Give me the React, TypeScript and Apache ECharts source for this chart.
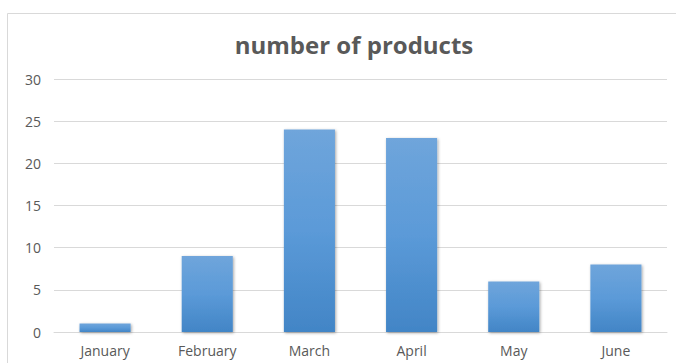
import React, { useEffect, useRef } from "react";
import * as echarts from "echarts";

const categories = ["January", "February", "March", "April", "May", "June"];
const values = [1, 9, 24, 23, 6, 8];
const title = "number of products";

export default function App() {
  const ref = useRef<HTMLDivElement>(null);
  useEffect(() => {
    if (!ref.current) return;
    const chart = echarts.init(ref.current, null, { renderer: "svg" });
    chart.setOption({
      animation: false,
      backgroundColor: "#ffffff",
      textStyle: { fontFamily: "Open Sans" },
      title: {
        text: title,
        left: 349,
        textAlign: "center",
        top: 27,
        textStyle: { fontSize: 24, fontWeight: "bold", color: "#595959", fontFamily: "Open Sans" },
      },
      graphic: [
        {
          type: "rect",
          shape: { x: 7.5, y: 13.5, width: 720, height: 420 },
          style: { fill: "none", stroke: "#d9d9d9", lineWidth: 1 },
          silent: true,
          z: -1,
        },
      ],
      grid: { left: 54, right: 9, top: 79, bottom: 31 },
      xAxis: {
        type: "category",
        data: categories,
        axisTick: { show: false },
        axisLine: { show: true, lineStyle: { color: "#d9d9d9", width: 1 } },
        axisLabel: { color: "#595959", fontSize: 14, margin: 11, fontFamily: "Open Sans" },
      },
      yAxis: {
        type: "value",
        min: 0,
        max: 30,
        interval: 5,
        axisLine: { show: false },
        axisTick: { show: false },
        splitLine: { lineStyle: { color: "#d9d9d9", width: 1 } },
        axisLabel: { color: "#595959", fontSize: 14, margin: 13, fontFamily: "Open Sans" },
      },
      series: [
        {
          type: "bar",
          data: values,
          barWidth: "50%",
          itemStyle: {
            color: new echarts.graphic.LinearGradient(0, 0, 0, 1, [
              { offset: 0, color: "#6fa5db" },
              { offset: 0.5, color: "#5b9ad8" },
              { offset: 1, color: "#4285c6" },
            ]),
            shadowBlur: 3,
            shadowColor: "rgba(0,0,0,0.35)",
            shadowOffsetX: 1,
            shadowOffsetY: 1,
          },
        },
      ],
    });
    return () => chart.dispose();
  }, []);
  return (
    <div
      ref={ref}
      style={{ position: "absolute", left: 0, top: 0, width: 676, height: 363 }}
    />
  );
}
